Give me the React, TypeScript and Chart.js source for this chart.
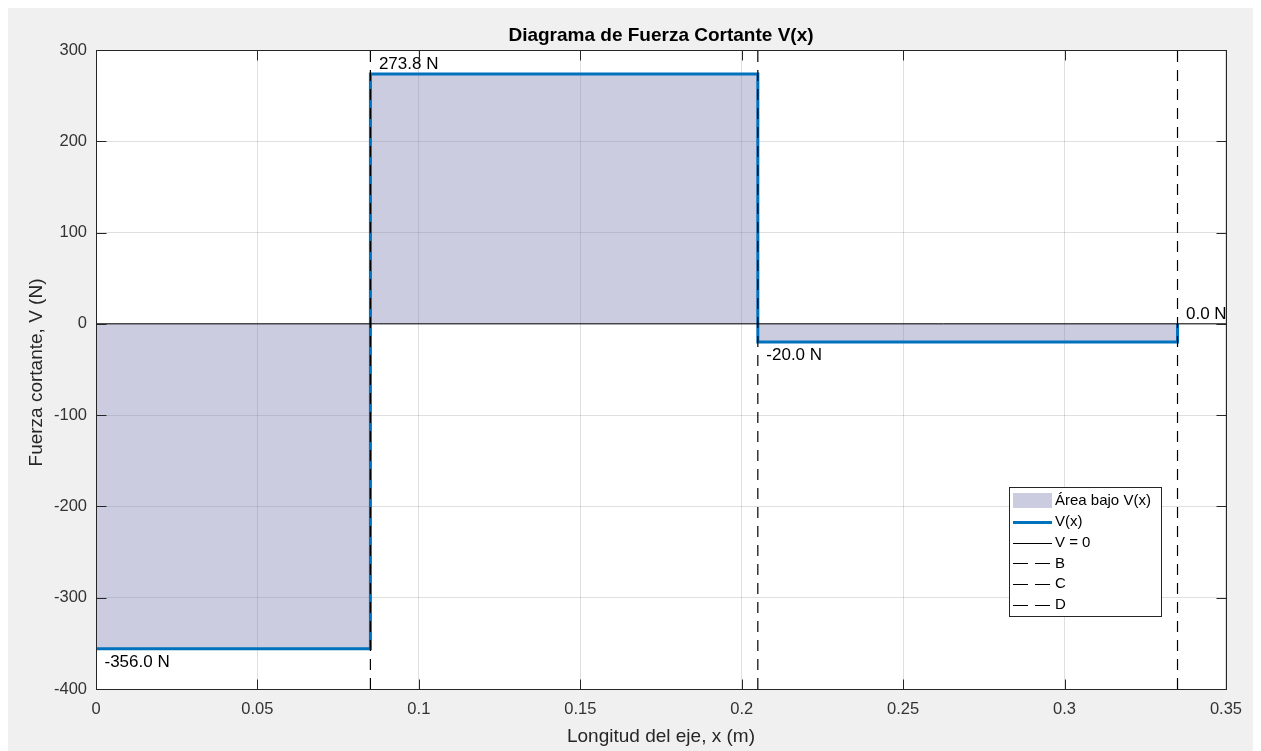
import React, { useEffect, useRef } from 'react';
import { Chart, registerables } from 'chart.js';

Chart.register(...registerables);

// ---- data ----
const segStart = [0, 0.085, 0.205];
const segEnd = [0.085, 0.205, 0.335];
const shear = [-356.0, 273.8, -20.0];
const endShear = 0.0;
const supportNames = ['B', 'C', 'D'];
const supportX = [0.085, 0.205, 0.335];
const xTicks = [0, 0.05, 0.1, 0.15, 0.2, 0.25, 0.3, 0.35];
const xTickLabels = ['0', '0.05', '0.1', '0.15', '0.2', '0.25', '0.3', '0.35'];
const yTicks = [-400, -300, -200, -100, 0, 100, 200, 300];
const yTickLabels = ['-400', '-300', '-200', '-100', '0', '100', '200', '300'];
const xRange = [0, 0.35];
const yRange = [-400, 300];

const titleText = 'Diagrama de Fuerza Cortante V(x)';
const xLabelText = 'Longitud del eje, x (m)';
const yLabelText = 'Fuerza cortante, V (N)';
const areaLabel = 'Área bajo V(x)';
const lineLabel = 'V(x)';
const zeroLabel = 'V = 0';

const FONT = "'Liberation Sans', Arial, Helvetica, sans-serif";
const AXIS_COLOR = '#262626';
const BLUE = '#0072BD';
const FILL = 'rgba(128,128,179,0.4)';
const DASH = [11, 8];

const W = 1245;
const H = 743;

function buildStep() {
  const pts: { x: number; y: number }[] = [];
  segStart.forEach((s, i) => {
    pts.push({ x: s, y: shear[i] });
    pts.push({ x: segEnd[i], y: shear[i] });
  });
  pts.push({ x: segEnd[segEnd.length - 1], y: endShear });
  return pts;
}

function buildLabels() {
  const l = segStart.map((s, i) => ({ x: s, v: shear[i] }));
  l.push({ x: segEnd[segEnd.length - 1], v: endShear });
  return l;
}

const decorPlugin = {
  id: 'decor',
  beforeDraw(chart: any) {
    const { ctx, chartArea: a } = chart;
    ctx.save();
    ctx.fillStyle = '#f0f0f0';
    ctx.fillRect(0, 0, chart.width, chart.height);
    ctx.fillStyle = '#ffffff';
    ctx.fillRect(a.left, a.top, a.right - a.left, a.bottom - a.top);
    ctx.restore();
  },
  afterDatasetsDraw(chart: any) {
    const { ctx, chartArea: a, scales } = chart;
    const xs = scales.x;
    const ys = scales.y;
    ctx.save();
    // annotations
    ctx.font = `17px ${FONT}`;
    ctx.fillStyle = '#000';
    ctx.textAlign = 'left';
    ctx.textBaseline = 'middle';
    buildLabels().forEach((p) => {
      const px = xs.getPixelForValue(p.x) + 8.5;
      const py = ys.getPixelForValue(p.v) + (p.v >= 0 ? -10 : 13);
      ctx.fillText(`${p.v.toFixed(1)} N`, px, py);
    });
    // box
    ctx.strokeStyle = AXIS_COLOR;
    ctx.lineWidth = 1;
    const L = Math.round(a.left) + 0.5;
    const R = Math.round(a.right) + 0.5;
    const T = Math.round(a.top) + 0.5;
    const B = Math.round(a.bottom) + 0.5;
    ctx.strokeRect(L, T, R - L, B - T);
    // inward ticks
    const tl = 10;
    ctx.beginPath();
    xTicks.forEach((v) => {
      const px = Math.round(xs.getPixelForValue(v)) + 0.5;
      ctx.moveTo(px, B);
      ctx.lineTo(px, B - tl);
      ctx.moveTo(px, T);
      ctx.lineTo(px, T + tl);
    });
    yTicks.forEach((v) => {
      const py = Math.round(ys.getPixelForValue(v)) + 0.5;
      ctx.moveTo(L, py);
      ctx.lineTo(L + tl, py);
      ctx.moveTo(R, py);
      ctx.lineTo(R - tl, py);
    });
    ctx.stroke();
    ctx.restore();
  },
  afterDraw(chart: any) {
    const { ctx, chartArea: a } = chart;
    ctx.save();
    // title
    ctx.fillStyle = '#000';
    ctx.font = `bold 19px ${FONT}`;
    ctx.textAlign = 'center';
    ctx.textBaseline = 'middle';
    ctx.fillText(titleText, (a.left + a.right) / 2, a.top - 14);
    // axis labels
    ctx.fillStyle = AXIS_COLOR;
    ctx.font = `19px ${FONT}`;
    ctx.fillText(xLabelText, (a.left + a.right) / 2, a.bottom + 48);
    ctx.save();
    ctx.translate(a.left - 59, (a.top + a.bottom) / 2 + 3);
    ctx.rotate(-Math.PI / 2);
    ctx.fillText(yLabelText, 0, 0);
    ctx.restore();

    // legend
    const lw = 152;
    const lh = 129;
    const lx = Math.round(a.right) - 65 - lw;
    const ly = Math.round(a.bottom) - 73 - lh;
    ctx.fillStyle = '#fff';
    ctx.fillRect(lx, ly, lw, lh);
    ctx.strokeStyle = AXIS_COLOR;
    ctx.lineWidth = 1;
    ctx.strokeRect(lx + 0.5, ly + 0.5, lw, lh);
    const items = chart.data.datasets;
    const s0 = lx + 4;
    const s1 = lx + 43;
    ctx.font = `15px ${FONT}`;
    ctx.textAlign = 'left';
    ctx.textBaseline = 'middle';
    items.forEach((ds: any, i: number) => {
      const cy = ly + 14 + i * 20.8;
      if (ds.fill) {
        ctx.fillStyle = ds.backgroundColor;
        ctx.fillRect(s0, cy - 8, s1 - s0, 15);
      } else {
        ctx.strokeStyle = ds.borderColor;
        ctx.lineWidth = ds.borderWidth;
        ctx.setLineDash(ds.borderDash && ds.borderDash.length ? [15, 7] : []);
        ctx.beginPath();
        ctx.moveTo(s0, Math.round(cy) + 0.5);
        ctx.lineTo(s1, Math.round(cy) + 0.5);
        ctx.stroke();
        ctx.setLineDash([]);
      }
      ctx.fillStyle = '#000';
      ctx.fillText(ds.label, lx + 46, cy);
    });
    ctx.restore();
  },
};

export default function App() {
  const ref = useRef<HTMLCanvasElement | null>(null);
  useEffect(() => {
    if (!ref.current) return;
    const step = buildStep();
    const datasets: any[] = [
      {
        label: areaLabel,
        data: step,
        fill: 'origin',
        backgroundColor: FILL,
        borderWidth: 0,
        borderColor: 'rgba(0,0,0,0)',
        pointRadius: 0,
        order: 6,
      },
      {
        label: lineLabel,
        data: step,
        fill: false,
        borderColor: BLUE,
        borderWidth: 3,
        pointRadius: 0,
        order: 5,
      },
      {
        label: zeroLabel,
        data: [
          { x: xRange[0], y: 0 },
          { x: xRange[1], y: 0 },
        ],
        fill: false,
        borderColor: '#000',
        borderWidth: 1,
        pointRadius: 0,
        order: 4,
      },
      ...supportNames.map((n, i) => ({
        label: n,
        data: [
          { x: supportX[i], y: yRange[0] },
          { x: supportX[i], y: yRange[1] },
        ],
        fill: false,
        borderColor: '#000',
        borderWidth: 1.2,
        borderDash: DASH,
        pointRadius: 0,
        order: 1,
      })),
    ];
    const tickFont = { family: FONT, size: 16.5 };
    const chart = new Chart(ref.current, {
      type: 'line',
      data: { datasets },
      plugins: [decorPlugin],
      options: {
        animation: false,
        responsive: false,
        events: [],
        layout: { padding: { left: 0, top: 42, right: W - 1218, bottom: 0 } },
        plugins: {
          legend: { display: false },
          title: { display: false },
          tooltip: { enabled: false },
        },
        elements: { line: { tension: 0 } },
        scales: {
          x: {
            type: 'linear',
            min: xRange[0],
            max: xRange[1],
            afterBuildTicks: (s: any) => {
              s.ticks = xTicks.map((v) => ({ value: v }));
            },
            afterFit: (s: any) => {
              s.height = 62;
            },
            ticks: {
              font: tickFont,
              color: '#333',
              padding: 11,
              maxRotation: 0,
              autoSkip: false,
              callback: (_v: any, i: number) => xTickLabels[i],
            },
            grid: { color: 'rgba(38,38,38,0.15)', drawTicks: false, lineWidth: 1 },
            border: { display: false },
          },
          y: {
            type: 'linear',
            min: yRange[0],
            max: yRange[1],
            afterBuildTicks: (s: any) => {
              s.ticks = yTicks.map((v) => ({ value: v }));
            },
            afterFit: (s: any) => {
              s.width = 88;
            },
            ticks: {
              font: tickFont,
              color: '#333',
              padding: 9,
              autoSkip: false,
              callback: (_v: any, i: number) => yTickLabels[i],
            },
            grid: { color: 'rgba(38,38,38,0.15)', drawTicks: false, lineWidth: 1 },
            border: { display: false },
          },
        },
      } as any,
    });
    return () => chart.destroy();
  }, []);
  return (
    <canvas
      ref={ref}
      width={W}
      height={H}
      style={{ display: 'block', width: W, height: H }}
    />
  );
}
